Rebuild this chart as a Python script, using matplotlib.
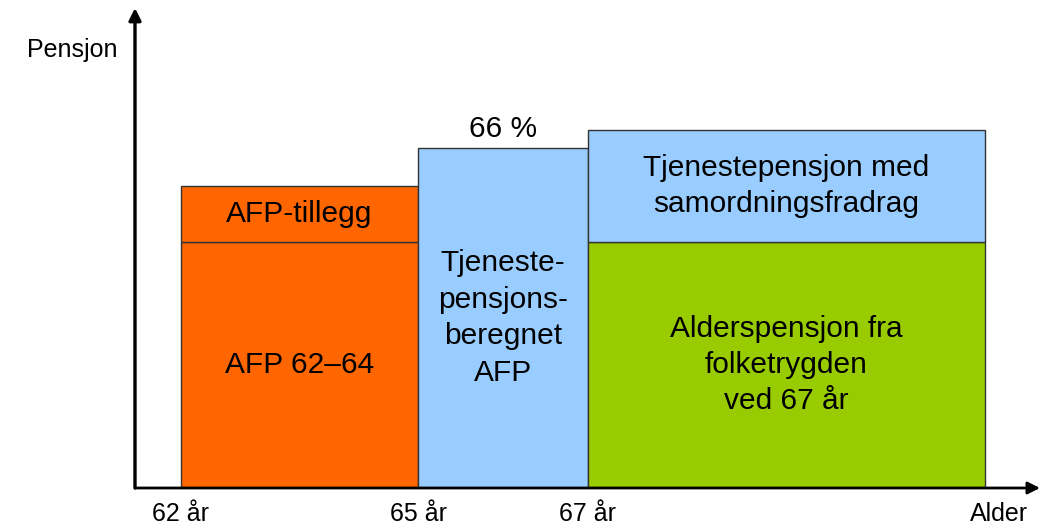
import matplotlib
matplotlib.use("Agg")
import matplotlib.pyplot as plt

plt.rcParams['font.family'] = ['Liberation Sans', 'DejaVu Sans']

# age segments (drawn on an uneven age scale, like the original sketch)
edges = [0.0, 3.0, 5.15, 10.18]
tick_pos = [0.0, 3.0, 5.15, 10.35]
tick_labels = ["62 år", "65 år", "67 år", "Alder"]

# pension stacks per segment (arbitrary units)
afp_base = 246
afp_tillegg = 56
tp_afp = 340
folketrygd = 246
tjenestepensjon = 112

orange = "#FF6600"
blue = "#99CCFF"
green = "#99CC00"
edge = "#333333"


def main():
    fig = plt.figure(figsize=(10.5, 5.26), dpi=100)
    ax = fig.add_axes([135 / 1050, 38 / 526, 905 / 1050, 480 / 526])
    ax.set_xlim(-46 / 79, 859 / 79)
    ax.set_ylim(0, 480)

    w1 = edges[1] - edges[0]
    w2 = edges[2] - edges[1]
    w3 = edges[3] - edges[2]
    kw = dict(align="edge", edgecolor=edge, linewidth=1)

    ax.bar(edges[0], afp_base, w1, color=orange, **kw)
    ax.bar(edges[0], afp_tillegg, w1, bottom=afp_base, color=orange, **kw)
    ax.bar(edges[1], tp_afp, w2, color=blue, **kw)
    ax.bar(edges[2], folketrygd, w3, color=green, **kw)
    ax.bar(edges[2], tjenestepensjon, w3, bottom=folketrygd, color=blue, **kw)

    fs = 21.5
    ls = 1.38
    c1 = edges[0] + w1 / 2
    c2 = edges[1] + w2 / 2
    c3 = edges[2] + w3 / 2
    ax.text(c1, afp_base + afp_tillegg / 2, "AFP-tillegg", ha="center", va="center", fontsize=fs)
    ax.text(c1, afp_base / 2, "AFP 62–64", ha="center", va="center", fontsize=fs)
    ax.text(c2, tp_afp / 2, "Tjeneste-\npensjons-\nberegnet\nAFP", ha="center", va="center",
            fontsize=fs, linespacing=ls)
    ax.text(c2, tp_afp + 19, "66 %", ha="center", va="center", fontsize=fs)
    ax.text(c3, folketrygd + tjenestepensjon / 2, "Tjenestepensjon med\nsamordningsfradrag",
            ha="center", va="center", fontsize=fs, linespacing=ls)
    ax.text(c3, folketrygd / 2, "Alderspensjon fra\nfolketrygden\nved 67 år",
            ha="center", va="center", fontsize=fs, linespacing=ls)

    # axes as arrows
    for s in ax.spines.values():
        s.set_visible(False)
    ax.annotate("", xy=(1, 0), xytext=(0, 0), xycoords="axes fraction",
                arrowprops=dict(arrowstyle="-|>", lw=2, color="black", mutation_scale=18,
                                shrinkA=0, shrinkB=0))
    ax.annotate("", xy=(0, 1), xytext=(0, 0), xycoords="axes fraction",
                arrowprops=dict(arrowstyle="-|>", lw=2.4, color="black", mutation_scale=18,
                                shrinkA=0, shrinkB=0))

    ax.set_xticks(tick_pos)
    ax.set_xticklabels(tick_labels, fontsize=18)
    ax.tick_params(axis="x", length=0, pad=10)
    ax.set_yticks([])

    fig.text(72 / 1050, 1 - 50 / 526, "Pensjon", ha="center", va="center", fontsize=18)

    fig.savefig("out.png", dpi=100)


if __name__ == "__main__":
    main()
